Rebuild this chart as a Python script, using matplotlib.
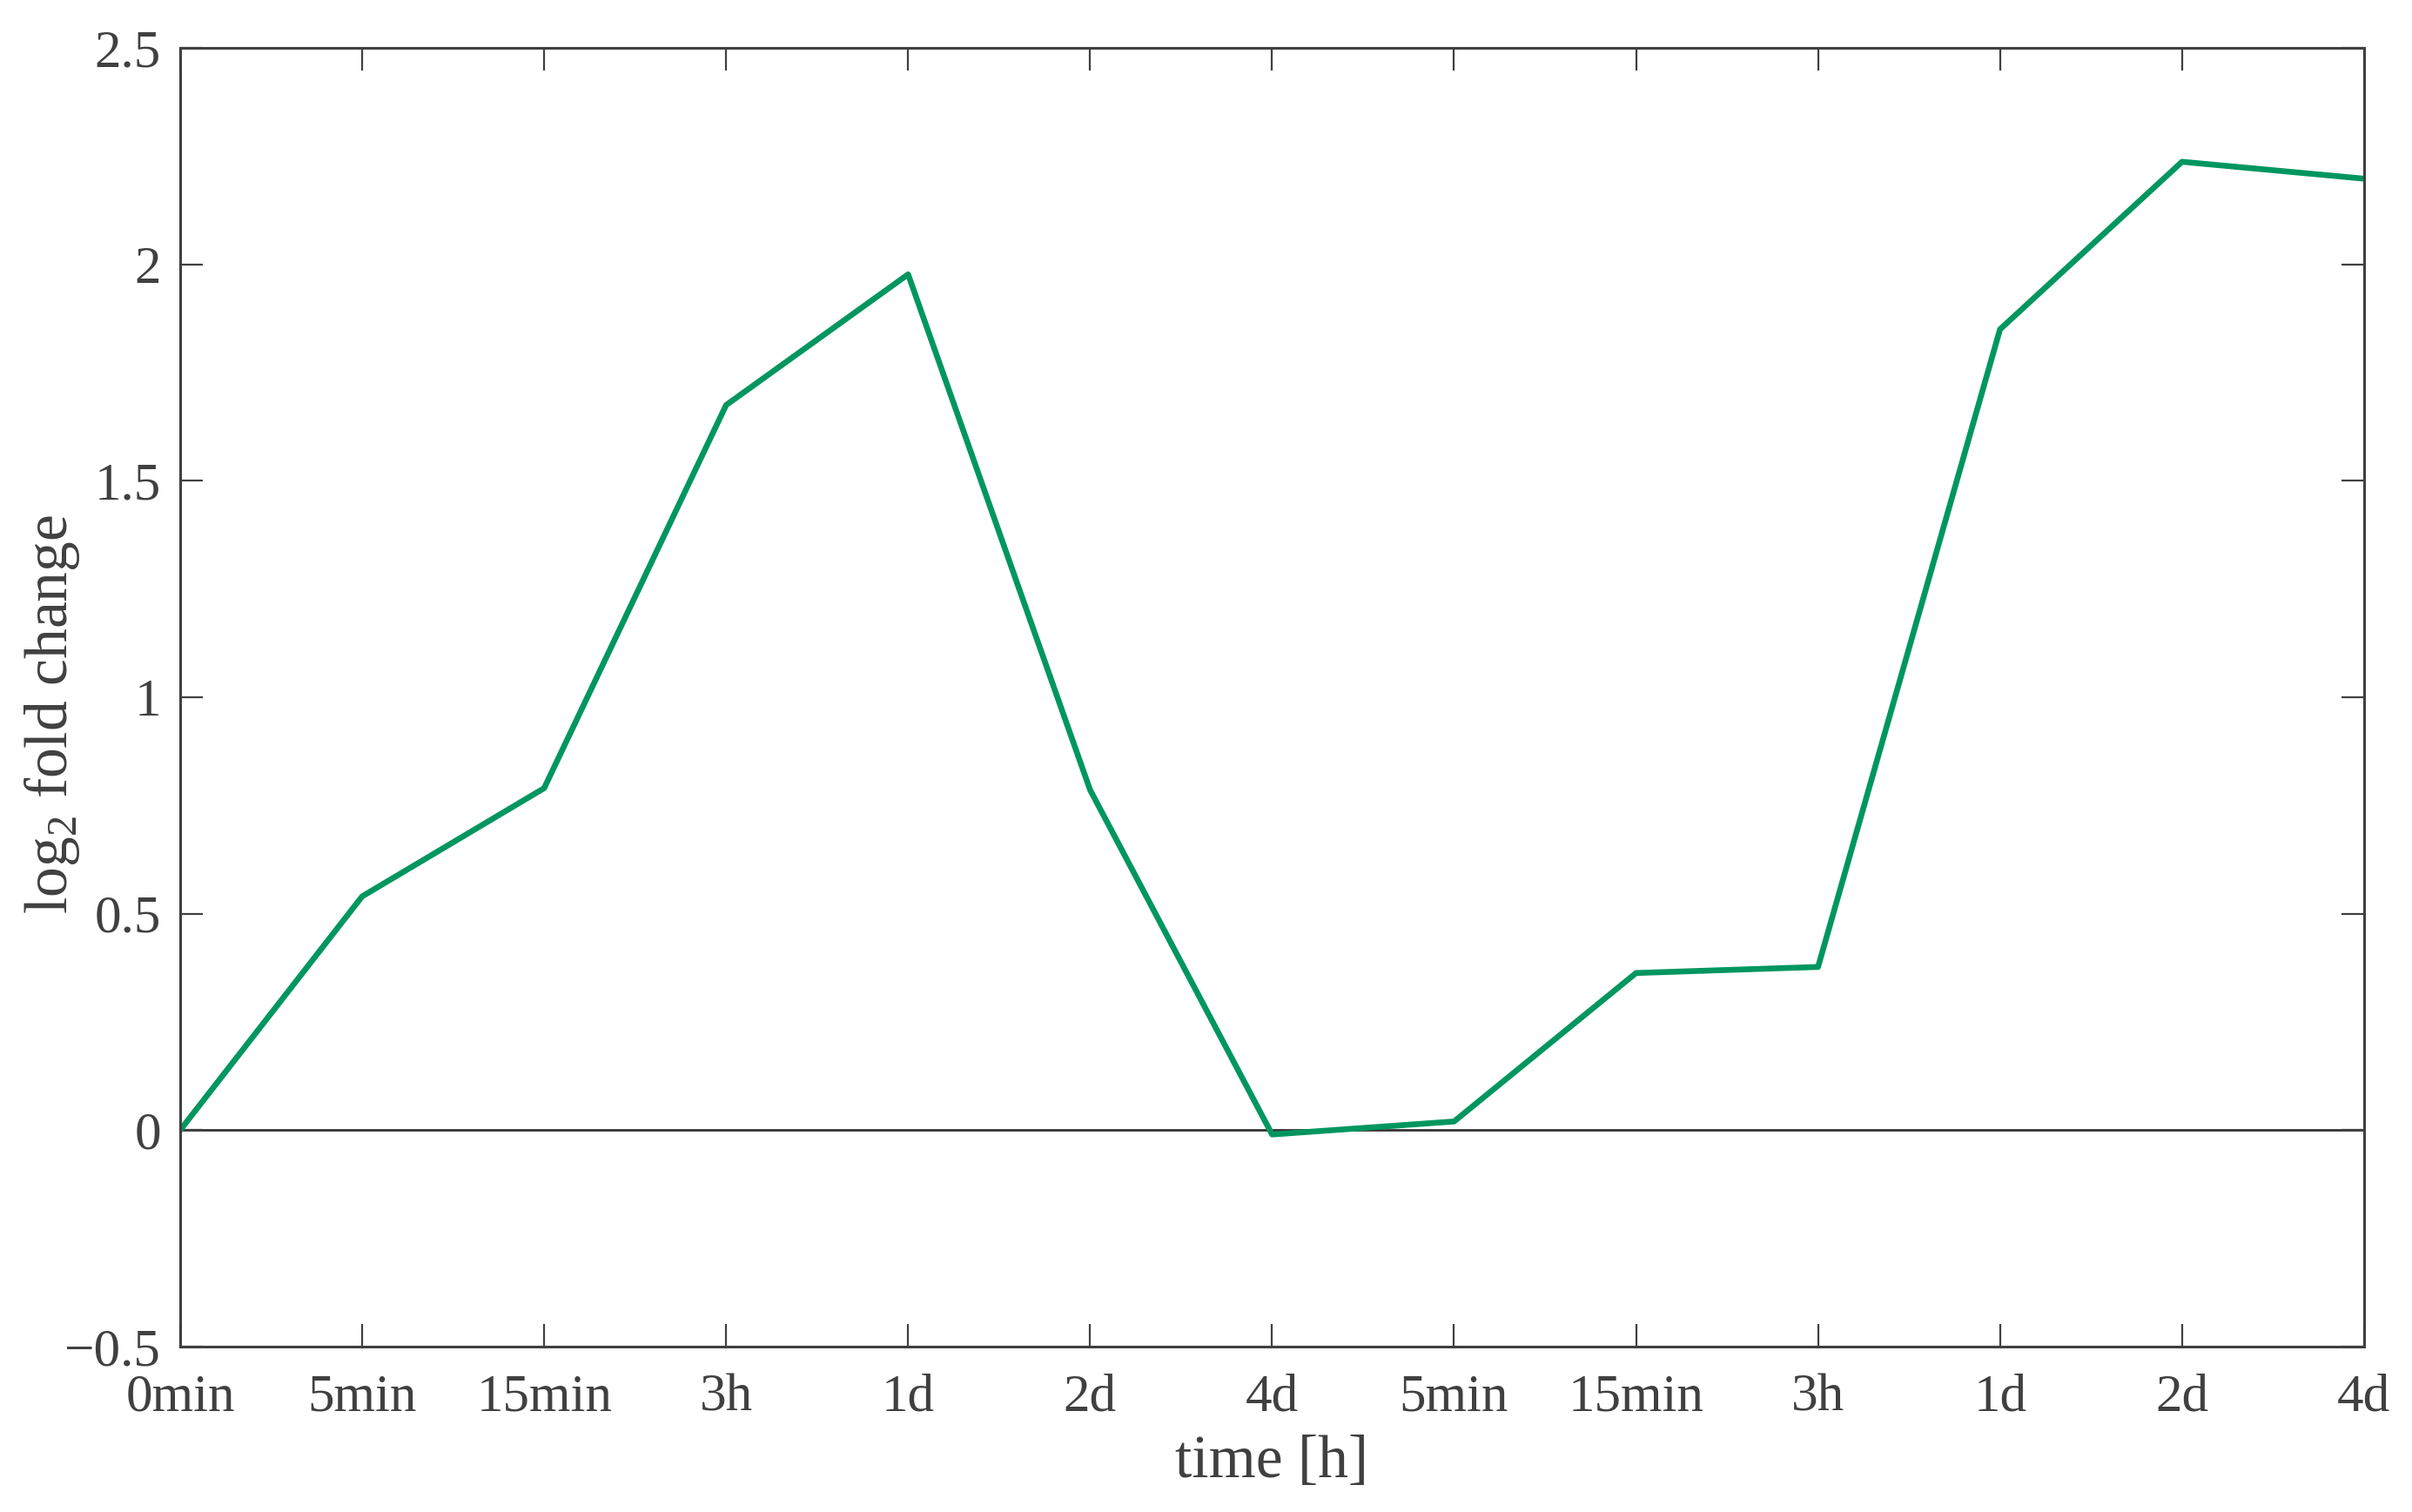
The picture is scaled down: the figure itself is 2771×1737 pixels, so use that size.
import matplotlib
matplotlib.use("Agg")
import matplotlib.pyplot as plt
import numpy as np

# ---------- Data ----------
time_labels = ["0min", "5min", "15min", "3h", "1d", "2d", "4d",
               "5min", "15min", "3h", "1d", "2d", "4d"]
log2_fc = [0.0, 0.54, 0.79, 1.675, 1.977, 0.786, -0.01,
           0.02, 0.363, 0.377, 1.85, 2.237, 2.198]
y_ticks = [-0.5, 0, 0.5, 1, 1.5, 2, 2.5]
y_tick_labels = ["\u22120.5", "0", "0.5", "1", "1.5", "2", "2.5"]

# ---------- Style ----------
TEXT_COLOR = "#404040"
LINE_COLOR = "#00965f"
plt.rcParams["font.family"] = ["Liberation Serif", "DejaVu Serif"]
plt.rcParams["mathtext.fontset"] = "custom"
plt.rcParams["mathtext.rm"] = "Liberation Serif"

# ---------- Figure ----------
fig = plt.figure(figsize=(27.71, 17.37), dpi=100)
ax = fig.add_axes([0.0747, 0.1094, 0.9054, 0.8589])

x = np.arange(len(time_labels))
ax.axhline(0, color="#333333", linewidth=2.0, zorder=1)
ax.plot(x, log2_fc, color=LINE_COLOR, linewidth=4.8, zorder=2)

ax.set_xlim(0, len(time_labels) - 1)
ax.set_ylim(-0.5, 2.5)
ax.set_xticks(x)
ax.set_xticklabels(time_labels)
ax.set_yticks(y_ticks)
ax.set_yticklabels(y_tick_labels)

ax.tick_params(axis="both", direction="in", length=19, width=1.6,
               color=TEXT_COLOR, labelcolor=TEXT_COLOR, labelsize=44,
               top=True, right=True, pad=16)
ax.tick_params(axis="x", pad=22)
for spine in ax.spines.values():
    spine.set_color(TEXT_COLOR)
    spine.set_linewidth(2.2)

ax.set_xlabel("time [h]", fontsize=50, color=TEXT_COLOR)
ax.set_ylabel(r"log$_2$ fold change", fontsize=50, color=TEXT_COLOR)
ax.xaxis.set_label_coords(0.5, -0.068)
ax.yaxis.set_label_coords(-0.045, 0.487)

fig.savefig("out.png", dpi=100, facecolor="white")
